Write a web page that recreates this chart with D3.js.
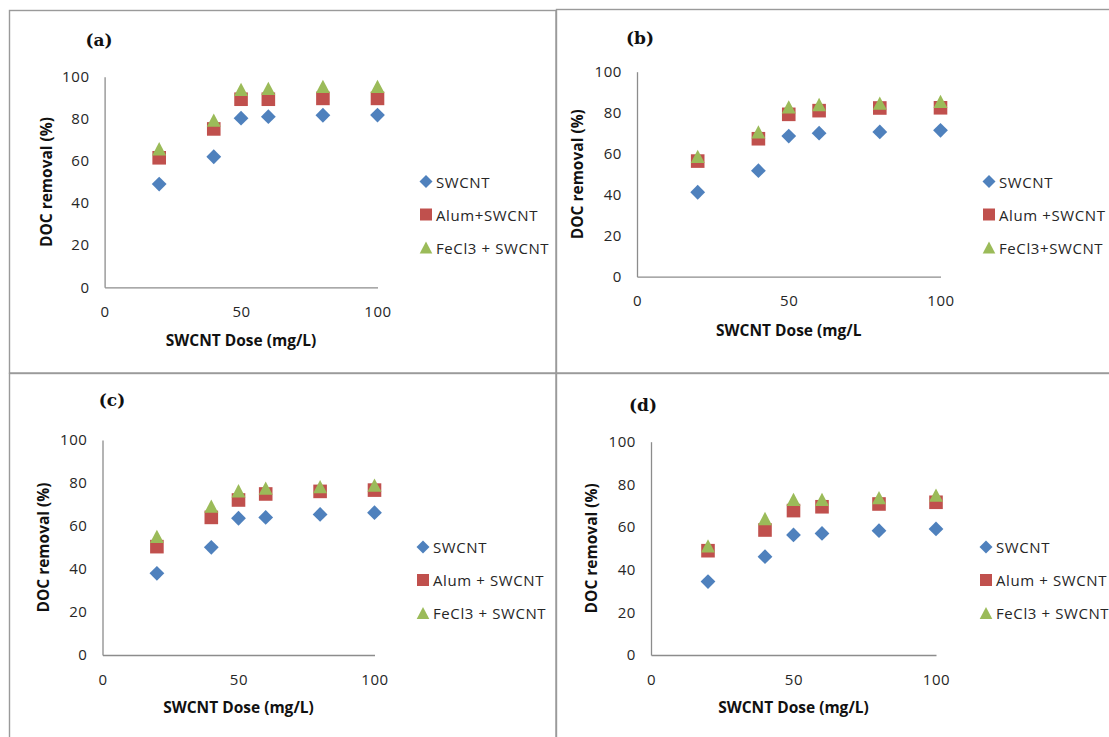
<!DOCTYPE html>
<html>
<head>
<meta charset="utf-8">
<script src="https://cdn.jsdelivr.net/npm/d3@7"></script>
<style>
  html, body { margin: 0; padding: 0; background: #ffffff; }
  svg { display: block; }
</style>
</head>
<body>
<svg id="chart" width="1109" height="737"></svg>
<script>
// ---------- DATA ----------
const doses = [20, 40, 50, 60, 80, 100];
const xTicks = [0, 50, 100];
const yTicks = [0, 20, 40, 60, 80, 100];
const panelLabels = ["(a)", "(b)", "(c)", "(d)"];

const swcntA = [49, 62, 80.3, 81, 81.7, 81.8];
const alumA  = [61.5, 75.2, 89.3, 89.3, 89.7, 89.7];
const fecl3A = [65.8, 79.4, 94, 94.5, 95.4, 95.4];

const swcntB = [41.2, 51.7, 68.6, 70, 70.6, 71.4];
const alumB  = [56.4, 67.3, 79.2, 81, 82.3, 82.4];
const fecl3B = [58.7, 70.6, 82.8, 84, 84.7, 85.5];

const swcntC = [38, 50.1, 63.6, 64, 65.4, 66.2];
const alumC  = [50.4, 64, 72.1, 74.9, 76.1, 76.7];
const fecl3C = [55.2, 69.2, 76.4, 77.6, 78.3, 79];

const swcntD = [34.4, 46.1, 56.3, 57, 58.3, 59.1];
const alumD  = [48.9, 58.6, 67.7, 69.5, 70.8, 71.6];
const fecl3D = [51.2, 64, 73, 73, 73.8, 75];

const legendA = ["SWCNT", "Alum+SWCNT", "FeCl3 + SWCNT"];
const legendB = ["SWCNT", "Alum +SWCNT", "FeCl3+SWCNT"];
const legendC = ["SWCNT", "Alum + SWCNT", "FeCl3 + SWCNT"];
const legendD = ["SWCNT", "Alum + SWCNT", "FeCl3 + SWCNT"];

const xTitles = ["SWCNT Dose (mg/L)", "SWCNT Dose (mg/L", "SWCNT Dose (mg/L)", "SWCNT Dose (mg/L)"];
const yTitle = "DOC removal (%)";

// ---------- LAYOUT / STYLE ----------
const layouts = [
  { frame: [9.5, 10.5, 546.5, 362.5], x0: 104.6, x1: 377.5, yTop: 76.7, yBot: 287.3, lab: [99, 40], legX: 426, legY: 181.5, yTitleX: 46, xTitleY: 340 },
  { frame: [556.5, 9.5, 600, 363.5],   x0: 637,   x1: 940.5, yTop: 71.7, yBot: 276.7, lab: [640, 38], legX: 989, legY: 181.5, yTitleX: 577, xTitleY: 330 },
  { frame: [9.5, 373.5, 546.5, 400],   x0: 102.5, x1: 374.5, yTop: 440,  yBot: 655,   lab: [112, 400], legX: 423, legY: 547, yTitleX: 43, xTitleY: 707 },
  { frame: [556.5, 373.5, 600, 400],   x0: 651,   x1: 936,   yTop: 441.7, yBot: 655,  lab: [643, 405], legX: 986, legY: 547, yTitleX: 591, xTitleY: 707 }
];
const legGap = 33;
const colors = ["#4F81BD", "#C0504D", "#9BBB59"];
const axisColor = "#8c8c8c";
const textColor = "#262626";
const sansFont = "'Open Sans', 'Liberation Sans', sans-serif";

// custom marker shapes (centred in their bounding box)
const diamondType = { draw(ctx, s) { const r = s; ctx.moveTo(0, -r); ctx.lineTo(r, 0); ctx.lineTo(0, r); ctx.lineTo(-r, 0); ctx.closePath(); } };
const squareType  = { draw(ctx, s) { ctx.rect(-s, -s, 2 * s, 2 * s); } };
const triangleType = { draw(ctx, s) { const h = s * 0.95; ctx.moveTo(0, -h); ctx.lineTo(s, h); ctx.lineTo(-s, h); ctx.closePath(); } };
const shapes = [d3.symbol(diamondType, 7.4), d3.symbol(squareType, 6.8), d3.symbol(triangleType, 7)];
const legendShapes = [d3.symbol(diamondType, 6.5), d3.symbol(squareType, 6), d3.symbol(triangleType, 6.3)];

const panels = [
  { series: [swcntA, alumA, fecl3A], legend: legendA },
  { series: [swcntB, alumB, fecl3B], legend: legendB },
  { series: [swcntC, alumC, fecl3C], legend: legendC },
  { series: [swcntD, alumD, fecl3D], legend: legendD }
];

const svg = d3.select("#chart");

panels.forEach((p, i) => {
  const L = layouts[i];
  const g = svg.append("g");

  g.append("rect")
    .attr("x", L.frame[0]).attr("y", L.frame[1])
    .attr("width", L.frame[2]).attr("height", L.frame[3])
    .attr("fill", "none").attr("stroke", "#9a9a9a").attr("stroke-width", 1.4);

  const x = d3.scaleLinear().domain([0, 100]).range([L.x0, L.x1]);
  const y = d3.scaleLinear().domain([0, 100]).range([L.yBot, L.yTop]);

  const yAxis = g.append("g")
    .attr("transform", `translate(${L.x0},0)`)
    .call(d3.axisLeft(y).tickValues(yTicks).tickSize(0).tickSizeOuter(0).tickPadding(15));
  const xAxis = g.append("g")
    .attr("transform", `translate(0,${L.yBot})`)
    .call(d3.axisBottom(x).tickValues(xTicks).tickSize(0).tickSizeOuter(0).tickPadding(19));

  [yAxis, xAxis].forEach(a => {
    a.select(".domain").attr("stroke", axisColor).attr("stroke-width", 1.3);
    a.selectAll("text")
      .attr("fill", textColor)
      .style("font-family", sansFont)
      .style("font-size", "15px")
      .style("letter-spacing", "0.6px");
  });

  // points
  p.series.forEach((vals, s) => {
    g.append("g").selectAll("path")
      .data(doses.map((d, k) => ({ x: d, y: vals[k] })))
      .join("path")
      .attr("d", shapes[s])
      .attr("transform", d => `translate(${x(d.x)},${y(d.y)})`)
      .attr("fill", colors[s]);
  });

  // legend
  p.legend.forEach((name, s) => {
    const ly = L.legY + s * legGap;
    g.append("path")
      .attr("d", legendShapes[s])
      .attr("transform", `translate(${L.legX},${ly})`)
      .attr("fill", colors[s]);
    g.append("text")
      .attr("x", L.legX + 10).attr("y", ly)
      .attr("dominant-baseline", "central")
      .attr("fill", textColor)
      .style("font-family", sansFont)
      .style("font-size", "15px")
      .style("letter-spacing", "0.6px")
      .text(name);
  });

  // axis titles
  g.append("text")
    .attr("transform", `translate(${L.yTitleX},${(L.yTop + L.yBot) / 2}) rotate(-90)`)
    .attr("text-anchor", "middle")
    .attr("dominant-baseline", "central")
    .attr("fill", "#111")
    .style("font-family", sansFont)
    .style("font-size", "15.5px")
    .style("font-weight", "bold")
    .text(yTitle);

  g.append("text")
    .attr("x", (L.x0 + L.x1) / 2).attr("y", L.xTitleY)
    .attr("text-anchor", "middle")
    .attr("dominant-baseline", "central")
    .attr("fill", "#111")
    .style("font-family", sansFont)
    .style("font-size", "15.5px")
    .style("font-weight", "bold")
    .text(xTitles[i]);

  // panel label
  g.append("text")
    .attr("x", L.lab[0]).attr("y", L.lab[1])
    .attr("text-anchor", "middle")
    .attr("dominant-baseline", "central")
    .attr("fill", "#111")
    .style("font-family", "'DejaVu Serif', 'Liberation Serif', serif")
    .style("font-size", "17px")
    .style("font-weight", "bold")
    .text(panelLabels[i]);
});
</script>
</body>
</html>
